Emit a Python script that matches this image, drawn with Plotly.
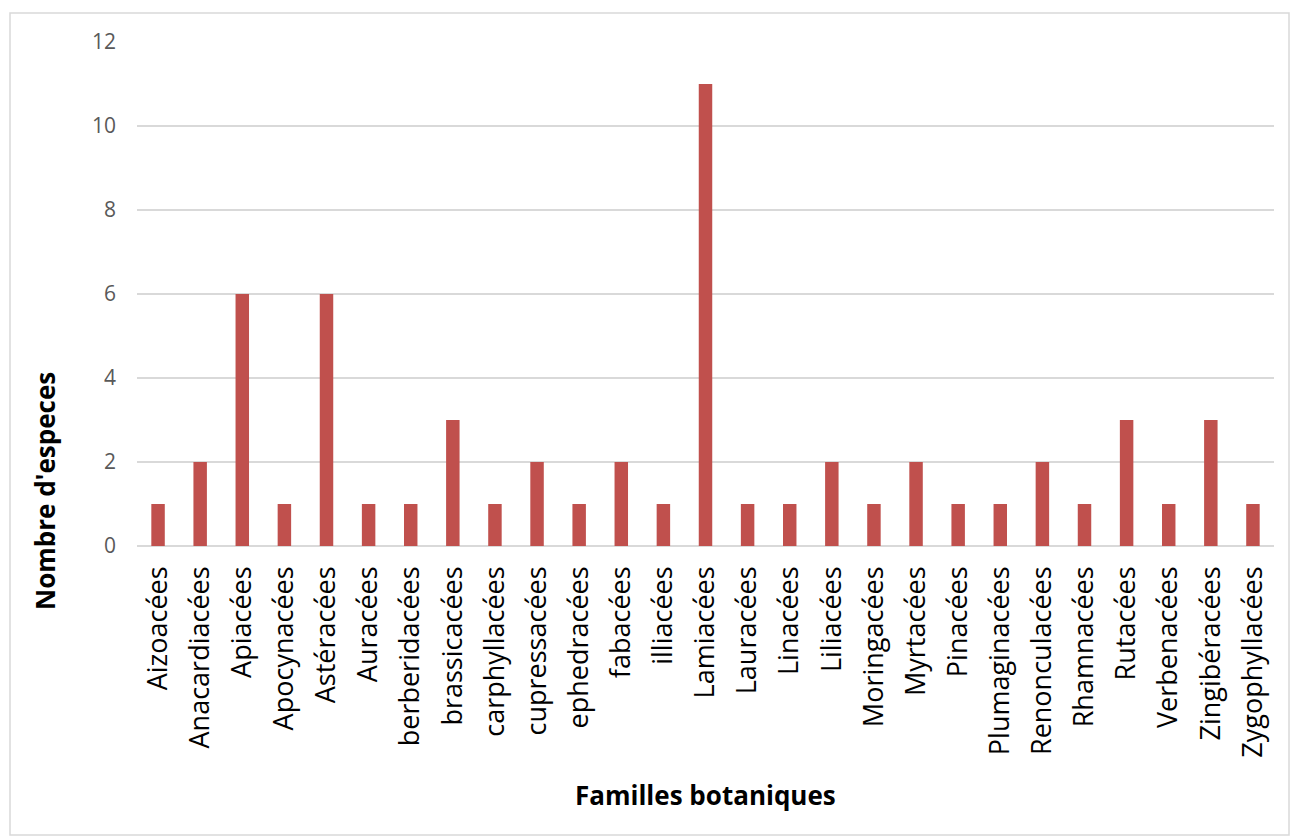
import plotly.graph_objects as go

familles = ["Aizoacées", "Anacardiacées", "Apiacées", "Apocynacées", "Astéracées",
            "Auracées", "berberidacées", "brassicacées", "carphyllacées", "cupressacées",
            "ephedracées", "fabacées", "illiacées", "Lamiacées", "Lauracées",
            "Linacées", "Liliacées", "Moringacées", "Myrtacées", "Pinacées",
            "Plumaginacées", "Renonculacées", "Rhamnacées", "Rutacées", "Verbenacées",
            "Zingibéracées", "Zygophyllacées"]
especes = [1, 2, 6, 1, 6, 1, 1, 3, 1, 2, 1, 2, 1, 11, 1, 1, 2, 1, 2, 1, 1, 2, 1, 3, 1, 3, 1]
y_ticks = [0, 2, 4, 6, 8, 10, 12]

W, H = 1291, 837
L, R, T, B = 137, 17, 42, 291
pw, ph = W - L - R, H - T - B

fig = go.Figure(go.Bar(x=familles, y=especes, marker_color="#C0504D",
                       marker_line_width=0))

fig.update_layout(
    width=W, height=H,
    margin=dict(l=L, r=R, t=T, b=B, autoexpand=False),
    plot_bgcolor="white", paper_bgcolor="white",
    bargap=0.68,
    showlegend=False,
    font=dict(family="Open Sans, Calibri, sans-serif"),
)
fig.update_xaxes(
    type="category", tickangle=-90,
    tickfont=dict(size=27, color="black"),
    showgrid=False, showline=False, ticks="",
    ticklabelstandoff=14,
    automargin=False,
)
fig.update_yaxes(
    range=[0, 12], tickvals=y_ticks,
    tickfont=dict(size=21, color="#595959"),
    showgrid=True, gridcolor="#D9D9D9", gridwidth=1.5,
    zeroline=True, zerolinecolor="#D9D9D9", zerolinewidth=1.5,
    ticks="", ticklabelstandoff=20,
    automargin=False,
)

fig.add_annotation(text="<b>Familles botaniques</b>", xref="paper", yref="paper",
                   x=(705 - L) / pw, y=(H - B - 795) / ph, showarrow=False,
                   xanchor="center", yanchor="middle",
                   font=dict(size=26, color="black"))
fig.add_annotation(text="<b>Nombre d'especes</b>", xref="paper", yref="paper",
                   x=(45 - L) / pw, y=(H - B - 491) / ph, showarrow=False, textangle=-90,
                   xanchor="center", yanchor="middle",
                   font=dict(size=26, color="black"))

# chart border
fig.add_shape(type="rect", xref="paper", yref="paper",
              x0=(10 - L) / pw, x1=(1289 - L) / pw,
              y0=(H - B - 835) / ph, y1=(H - B - 13) / ph,
              line=dict(color="#D9D9D9", width=1.5), fillcolor="rgba(0,0,0,0)", layer="below")

fig.write_html("out.html")
